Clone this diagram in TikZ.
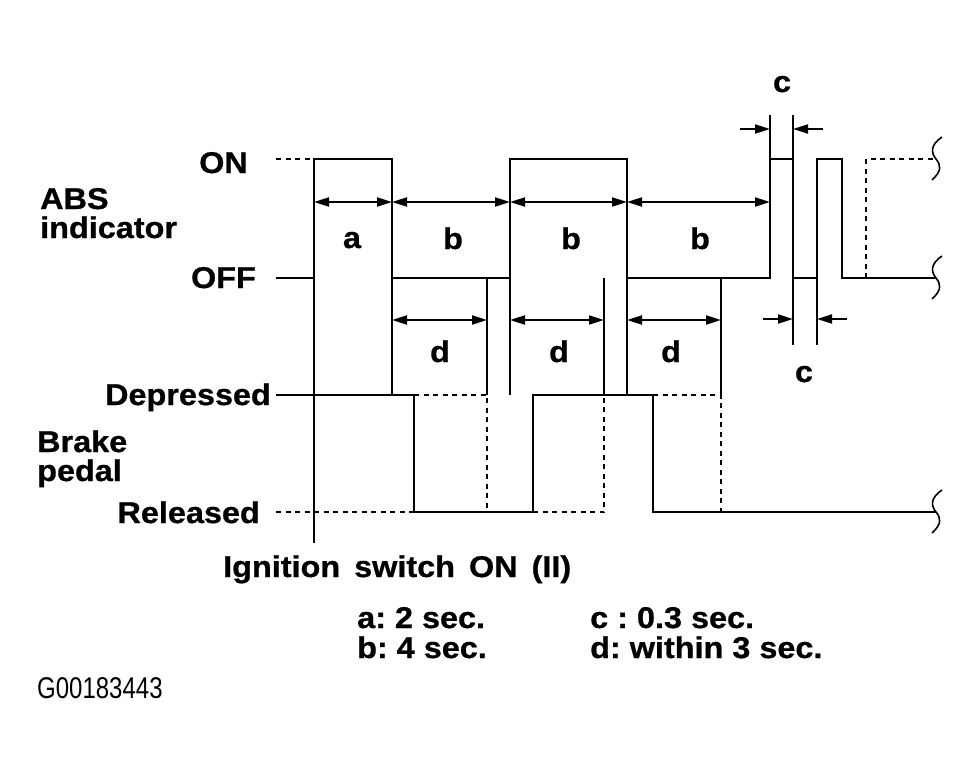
\documentclass[tikz,border=0pt]{standalone}
\usepackage{fontspec}
\setmainfont{Liberation Sans}
\newfontfamily\lblfont[FakeStretch=1.08,FakeBold=0.8]{Liberation Sans}
\newfontfamily\codefont[FakeStretch=0.8]{Liberation Sans}
\usetikzlibrary{arrows.meta}
\frenchspacing
\tikzset{
  wave/.style={line width=2.2pt, line join=miter},
  ext/.style={line width=2pt},
  dashline/.style={line width=2pt, dash pattern=on 5pt off 4.5pt},
  dimarrow/.style={line width=2pt, {Triangle[length=15pt,width=9pt]}-{Triangle[length=15pt,width=9pt]}},
  onearrow/.style={line width=2pt, -{Triangle[length=15pt,width=9pt]}},
  lab/.style={font=\lblfont\bfseries\fontsize{30}{32}\selectfont, inner sep=0pt},
  code/.style={font=\codefont\fontsize{30}{32}\selectfont, inner sep=0pt},
  brk/.pic={\draw[line width=1.6pt] (6,-22) .. controls (-6,-14) and (-5,-6) .. (0,0) .. controls (5,6) and (6,12) .. (-4,21);}
}
\begin{document}
\begin{tikzpicture}[x=1pt,y=-1pt]
\useasboundingbox (0,0) rectangle (980,771);
\fill[white] (0,0) rectangle (980,771);

% ---- labels
\node[lab, anchor=base east] (on) at (248,173) {ON};
\node[lab, anchor=base west] (abs1) at (40,209) {ABS};
\node[lab, anchor=base west] (abs2) at (40,238) {indicator};
\node[lab, anchor=base east] (off) at (256,288) {OFF};
\node[lab, anchor=base east] (dep) at (271,405) {Depressed};
\node[lab, anchor=base west] (brk1) at (37,452) {Brake};
\node[lab, anchor=base west] (brk2) at (37,481) {pedal};
\node[lab, anchor=base east] (rel) at (260,523) {Released};
\node[lab, anchor=base west] (ign) at (223,577) {\spaceskip=14pt plus 2pt Ignition switch ON (II)};

\node[lab, anchor=base] (la) at (352,248) {a};
\node[lab, anchor=base] (lb1) at (453,249) {b};
\node[lab, anchor=base] (lb2) at (571,249) {b};
\node[lab, anchor=base] (lb3) at (700,249) {b};
\node[lab, anchor=base] (ld1) at (440,362) {d};
\node[lab, anchor=base] (ld2) at (559,362) {d};
\node[lab, anchor=base] (ld3) at (671,362) {d};
\node[lab, anchor=base] (lc1) at (782,92) {c};
\node[lab, anchor=base] (lc2) at (804,382) {c};

\node[lab, anchor=base west] (ka) at (357,628) {a: 2 sec.};
\node[lab, anchor=base west] (kb) at (357,658) {b: 4 sec.};
\node[lab, anchor=base west] (kc) at (590,628) {c : 0.3 sec.};
\node[lab, anchor=base west] (kd) at (590,658) {d: within 3 sec.};
\node[code, anchor=base west] (gcode) at (37,698) {G00183443};

% ---- ABS indicator waveform
\draw[wave] (276,278) -- (314,278) -- (314,159) -- (392,159) -- (392,278) -- (510,278)
  -- (510,159) -- (627,159) -- (627,278) -- (770,278) -- (770,159) -- (793,159)
  -- (793,278) -- (817,278) -- (817,159) -- (842,159) -- (842,278) -- (936,278);
\draw[dashline] (276,159) -- (314,159);
\draw[dashline] (866,278) -- (866,159) -- (936,159);

% ---- extension lines
\draw[ext] (314,278) -- (314,543);
\draw[ext] (392,278) -- (392,395);
\draw[ext] (510,278) -- (510,395);
\draw[ext] (627,278) -- (627,395);
\draw[ext] (487,278) -- (487,395);
\draw[ext] (604,278) -- (604,395);
\draw[ext] (721,278) -- (721,395);
\draw[ext] (770,159) -- (770,115);
\draw[ext] (793,159) -- (793,115);
\draw[ext] (793,278) -- (793,345);
\draw[ext] (817,278) -- (817,345);

% ---- brake pedal waveform
\draw[wave] (276,395) -- (414,395) -- (414,512) -- (533,512) -- (533,395) -- (653,395)
  -- (653,512) -- (936,512);
\draw[dashline] (276,512) -- (414,512);
\draw[dashline] (414,395) -- (487,395) -- (487,512);
\draw[dashline] (533,512) -- (604,512) -- (604,395);
\draw[dashline] (653,395) -- (721,395) -- (721,512);

% ---- break marks
\pic at (936,159) {brk};
\pic at (936,278) {brk};
\pic at (936,512) {brk};

% ---- dimension arrows
\coordinate (a0) at (314,202);
\coordinate (a1) at (392,202);
\coordinate (a2) at (510,202);
\coordinate (a3) at (627,202);
\coordinate (a4) at (770,202);
\draw[dimarrow] (a0) -- (a1);
\draw[dimarrow] (a1) -- (a2);
\draw[dimarrow] (a2) -- (a3);
\draw[dimarrow] (a3) -- (a4);

\coordinate (d1s) at (392,320);
\coordinate (d1e) at (487,320);
\coordinate (d2s) at (510,320);
\coordinate (d2e) at (604,320);
\coordinate (d3s) at (627,320);
\coordinate (d3e) at (721,320);
\draw[dimarrow] (d1s) -- (d1e);
\draw[dimarrow] (d2s) -- (d2e);
\draw[dimarrow] (d3s) -- (d3e);

\coordinate (c1a) at (740,129);
\coordinate (c1b) at (770,129);
\coordinate (c1c) at (823,129);
\coordinate (c1d) at (793,129);
\draw[onearrow] (c1a) -- (c1b);
\draw[onearrow] (c1c) -- (c1d);
\coordinate (c2a) at (763,319);
\coordinate (c2b) at (793,319);
\coordinate (c2c) at (847,319);
\coordinate (c2d) at (817,319);
\draw[onearrow] (c2a) -- (c2b);
\draw[onearrow] (c2c) -- (c2d);
\end{tikzpicture}
\end{document}
